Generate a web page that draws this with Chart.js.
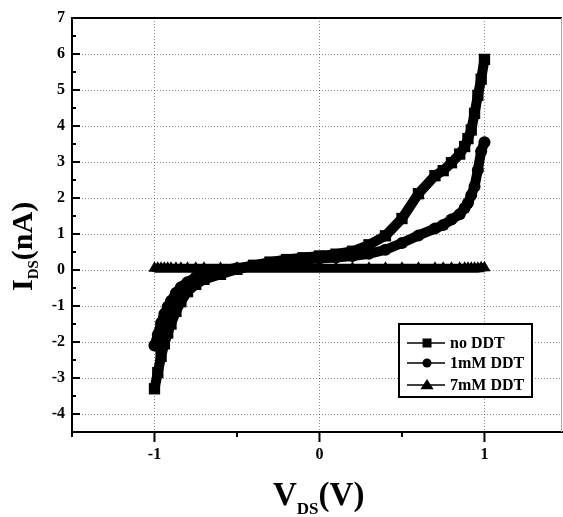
<!DOCTYPE html>
<html>
<head>
<meta charset="utf-8">
<script src="https://cdn.jsdelivr.net/npm/chart.js@4.4.1/dist/chart.umd.min.js"></script>
<style>
  html, body { margin: 0; padding: 0; background: #fff; }
  #ivChart { display: block; }
</style>
</head>
<body>
<canvas id="ivChart" width="563" height="517"></canvas>
<script>
/*==================DATA=================*/
const vds = [-1, -0.98, -0.96, -0.94, -0.92, -0.9, -0.87, -0.84, -0.8, -0.75, -0.7,
  -0.6, -0.5, -0.4, -0.3, -0.2, -0.1, 0, 0.1, 0.2, 0.3, 0.4, 0.5, 0.6, 0.7,
  0.75, 0.8, 0.85, 0.88, 0.9, 0.92, 0.94, 0.96, 0.98, 1];

const noDDT = [-3.3, -2.85, -2.4, -2.05, -1.75, -1.5, -1.15, -0.88, -0.6, -0.4, -0.26,
  -0.12, 0.02, 0.13, 0.22, 0.29, 0.34, 0.39, 0.44, 0.52, 0.7, 0.95, 1.43, 2.12, 2.62,
  2.76, 2.98, 3.22, 3.43, 3.65, 3.89, 4.35, 4.85, 5.3, 5.85];

const ddt1mM = [-2.1, -1.8, -1.47, -1.22, -1.02, -0.86, -0.64, -0.48, -0.34, -0.2, -0.12,
  -0.03, 0.05, 0.12, 0.19, 0.25, 0.29, 0.32, 0.35, 0.39, 0.45, 0.56, 0.75, 0.96, 1.15,
  1.25, 1.4, 1.55, 1.72, 1.86, 2.08, 2.32, 2.78, 3.3, 3.55];

const ddt7mM = [0.05, 0.05, 0.05, 0.05, 0.05, 0.05, 0.05, 0.05, 0.05, 0.05, 0.05,
  0.05, 0.05, 0.05, 0.05, 0.05, 0.05, 0.05, 0.05, 0.05, 0.05, 0.05, 0.05, 0.05, 0.05,
  0.05, 0.05, 0.05, 0.05, 0.05, 0.05, 0.05, 0.05, 0.06, 0.06];

const seriesLabels = ['no DDT', '1mM DDT', '7mM DDT'];
const xTickValues = [-1, 0, 1];
const yTickValues = [-4, -3, -2, -1, 0, 1, 2, 3, 4, 5, 6, 7];

const SERIF = '"Liberation Serif", "Times New Roman", serif';

function pts(ys) {
  return vds.map((x, i) => ({ x: x, y: ys[i] }));
}

function series(label, ys, style, radius, width) {
  return {
    label: label,
    data: pts(ys),
    showLine: true,
    borderColor: '#000',
    backgroundColor: '#000',
    borderWidth: width,
    pointStyle: style,
    pointRadius: radius,
    pointBorderWidth: 0,
    pointBackgroundColor: '#000'
  };
}

/*==================EXTRAS: frame, ticks, titles, legend=================*/
function drawMarker(ctx, style, x, y, r) {
  ctx.beginPath();
  if (style === 'rect') {
    ctx.rect(x - r, y - r, 2 * r, 2 * r);
  } else if (style === 'circle') {
    ctx.arc(x, y, r, 0, Math.PI * 2);
  } else {
    ctx.moveTo(x, y - r);
    ctx.lineTo(x + r * 1.1, y + r * 0.7);
    ctx.lineTo(x - r * 1.1, y + r * 0.7);
    ctx.closePath();
  }
  ctx.fill();
}

function subText(ctx, x, y, main, sub, tail, big, small, drop) {
  ctx.font = 'bold ' + big + 'px ' + SERIF;
  ctx.fillText(main, x, y);
  let w = ctx.measureText(main).width;
  ctx.font = 'bold ' + small + 'px ' + SERIF;
  ctx.fillText(sub, x + w, y + drop);
  w += ctx.measureText(sub).width;
  ctx.font = 'bold ' + big + 'px ' + SERIF;
  ctx.fillText(tail, x + w, y);
}

const extras = {
  id: 'extras',
  afterDraw(chart) {
    const ctx = chart.ctx;
    const a = chart.chartArea;
    const xs = chart.scales.x, ys = chart.scales.y;
    ctx.save();

    // top + right frame
    ctx.strokeStyle = '#000';
    ctx.lineWidth = 2;
    ctx.beginPath();
    ctx.moveTo(a.left, a.top);
    ctx.lineTo(a.right, a.top);
    ctx.stroke();
    ctx.strokeStyle = '#aaa';
    ctx.lineWidth = 1;
    ctx.beginPath();
    ctx.moveTo(a.right - 0.5, a.top);
    ctx.lineTo(a.right - 0.5, a.bottom);
    ctx.stroke();

    // y ticks, inward
    ctx.strokeStyle = '#000';
    ctx.lineWidth = 2;
    for (let v = -4.5; v <= 7; v += 0.5) {
      const py = ys.getPixelForValue(v);
      const len = Number.isInteger(v) ? 8 : 4;
      ctx.beginPath();
      ctx.moveTo(a.left, py);
      ctx.lineTo(a.left + len, py);
      ctx.stroke();
    }
    // x ticks, outward
    for (let v = -1.5; v <= 1; v += 0.5) {
      const px = xs.getPixelForValue(v);
      const len = Number.isInteger(v) ? 10 : 5;
      ctx.beginPath();
      ctx.moveTo(px, a.bottom);
      ctx.lineTo(px, a.bottom + len);
      ctx.stroke();
    }

    // axis titles with subscripts
    ctx.fillStyle = '#000';
    ctx.textAlign = 'left';
    ctx.textBaseline = 'alphabetic';
    subText(ctx, 273, 505, 'V', 'DS', '(V)', 33, 17, 9);
    ctx.save();
    ctx.translate(32, 291);
    ctx.rotate(-Math.PI / 2);
    subText(ctx, 0, 0, 'I', 'DS', '(nA)', 30, 15, 6);
    ctx.restore();

    // legend box
    const bx = a.right - 163, by = a.bottom - 108, bw = 133, bh = 73;
    ctx.fillStyle = '#fff';
    ctx.fillRect(bx, by, bw, bh);
    ctx.strokeStyle = '#000';
    ctx.lineWidth = 2;
    ctx.strokeRect(bx, by, bw, bh);
    const rows = [19, 39, 61];
    const marks = [['rect', 4.5], ['circle', 4.5], ['tri', 6]];
    ctx.fillStyle = '#000';
    ctx.textBaseline = 'middle';
    chart.data.datasets.forEach((ds, i) => {
      const ly = by + rows[i];
      ctx.lineWidth = 1.5;
      ctx.beginPath();
      ctx.moveTo(bx + 8, ly);
      ctx.lineTo(bx + 46, ly);
      ctx.stroke();
      drawMarker(ctx, marks[i][0], bx + 28, ly, marks[i][1]);
      ctx.font = 'bold 16px ' + SERIF;
      ctx.fillText(ds.label, bx + 51, ly + 1);
    });
    ctx.restore();
  }
};

/*==================CHART JS=================*/
const ctx = document.getElementById('ivChart');

new Chart(ctx, {
  type: 'scatter',
  data: {
    datasets: [
      series(seriesLabels[0], noDDT, 'rect', 8, 10),
      series(seriesLabels[1], ddt1mM, 'circle', 6, 10),
      series(seriesLabels[2], ddt7mM, 'triangle', 7, 9)
    ]
  },
  options: {
    responsive: false,
    animation: false,
    devicePixelRatio: 1,
    layout: { autoPadding: false, padding: { top: 18, right: 1, left: 0, bottom: 0 } },
    plugins: {
      legend: { display: false },
      tooltip: { enabled: false }
    },
    scales: {
      x: {
        type: 'linear',
        min: -1.5,
        max: 1.47,
        afterBuildTicks: (s) => { s.ticks = xTickValues.map(v => ({ value: v })); },
        afterFit: (s) => { s.height = 85; s.paddingLeft = 0; s.paddingRight = 0; },
        grid: { color: 'rgba(0,0,0,0.45)', lineWidth: 1, drawTicks: false },
        border: { color: '#000', width: 2, dash: [1, 2] },
        ticks: {
          color: '#000',
          padding: 13,
          font: { family: SERIF, size: 16, weight: 'bold' }
        }
      },
      y: {
        type: 'linear',
        min: -4.5,
        max: 7,
        afterBuildTicks: (s) => { s.ticks = yTickValues.map(v => ({ value: v })); },
        afterFit: (s) => { s.width = 72; s.paddingTop = 0; s.paddingBottom = 0; },
        grid: { color: 'rgba(0,0,0,0.45)', lineWidth: 1, drawTicks: false },
        border: { color: '#000', width: 2, dash: [1, 2] },
        ticks: {
          color: '#000',
          padding: 7,
          font: { family: SERIF, size: 16, weight: 'bold' }
        }
      }
    }
  },
  plugins: [extras]
});
</script>
</body>
</html>
